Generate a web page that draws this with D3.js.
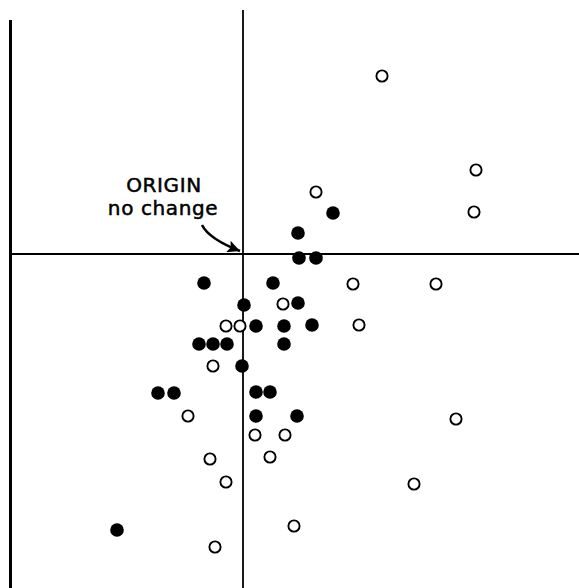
<!DOCTYPE html>
<html>
<head>
<meta charset="utf-8">
<script src="https://cdn.jsdelivr.net/npm/d3@7"></script>
<style>
  html, body { margin: 0; padding: 0; background: #fff; }
  svg { display: block; }
</style>
</head>
<body>
<svg id="chart"></svg>
<script>
// Constants
const width = 579;
const height = 588;

// Data: change relative to origin (arbitrary units)
const filledX = [-3.9, 3.0, 5.5, 9.0, 5.6, 7.3, 0.1, 5.5, 1.3, 4.1, 6.9, -4.4, -3.0, -1.6, 4.1, -0.1, -8.5, -6.9, 1.3, 2.7, 1.3, 5.4, -12.6];
const filledY = [-2.9, -2.9, 2.1, 4.1, -0.4, -0.4, -5.1, -4.9, -7.2, -7.2, -7.1, -9.0, -9.0, -9.0, -9.0, -11.2, -13.9, -13.9, -13.8, -13.8, -16.2, -16.2, -27.6];
const openX = [13.9, 23.3, 7.3, 23.1, 11.0, 19.3, 4.0, -1.7, -0.3, 11.6, -3.0, -5.5, 21.3, 1.2, 4.2, -3.3, 2.7, -1.7, 17.1, 5.1, -2.8];
const openY = [17.8, 8.4, 6.2, 4.2, -3.0, -3.0, -5.0, -7.2, -7.2, -7.1, -11.2, -16.2, -16.5, -18.1, -18.1, -20.5, -20.3, -22.8, -23.0, -27.2, -29.3];
const originLabel = ["ORIGIN", "no change"];

const svg = d3.select("#chart")
  .attr("width", width)
  .attr("height", height);

// Scales (origin sits at 243, 254)
const x = d3.scaleLinear().domain([-23.3, 33.6]).range([10, 579]);
const y = d3.scaleLinear().domain([24.4, -33.4]).range([10, 588]);

// Frame line on the left
svg.append("line")
  .attr("x1", x(-23.3) + 0.5).attr("x2", x(-23.3) + 0.5)
  .attr("y1", y(23.4)).attr("y2", height)
  .attr("stroke", "#000").attr("stroke-width", 3);

// Axes through the origin
svg.append("line")
  .attr("x1", x(0)).attr("x2", x(0))
  .attr("y1", y(24.4)).attr("y2", height)
  .attr("stroke", "#000").attr("stroke-width", 1.8);

svg.append("line")
  .attr("x1", x(-23.3)).attr("x2", width)
  .attr("y1", y(0)).attr("y2", y(0))
  .attr("stroke", "#000").attr("stroke-width", 1.8);

// Points
const filled = filledX.map((v, i) => ({ x: v, y: filledY[i] }));
const open = openX.map((v, i) => ({ x: v, y: openY[i] }));

svg.append("g")
  .selectAll("circle")
  .data(open)
  .join("circle")
    .attr("cx", d => x(d.x))
    .attr("cy", d => y(d.y))
    .attr("r", 5.6)
    .attr("fill", "#fff")
    .attr("stroke", "#000")
    .attr("stroke-width", 1.9);

svg.append("g")
  .selectAll("circle")
  .data(filled)
  .join("circle")
    .attr("cx", d => x(d.x))
    .attr("cy", d => y(d.y))
    .attr("r", 6.8)
    .attr("fill", "#000");

// Label
const label = svg.append("text")
  .attr("text-anchor", "middle")
  .attr("font-family", "DejaVu Sans, sans-serif")
  .attr("font-size", 20)
  .attr("letter-spacing", 0.6)
  .attr("stroke", "#000")
  .attr("stroke-width", 0.5);

label.append("tspan")
  .attr("x", x(-7.9))
  .attr("y", y(6.25))
  .text(originLabel[0]);

label.append("tspan")
  .attr("x", x(-8.0))
  .attr("y", y(3.9))
  .text(originLabel[1]);

// Arrow to the origin
svg.append("defs").append("marker")
  .attr("id", "head")
  .attr("viewBox", "0 0 10 10")
  .attr("refX", 10).attr("refY", 5)
  .attr("markerWidth", 6.4).attr("markerHeight", 4.8)
  .attr("markerUnits", "strokeWidth")
  .attr("orient", "auto")
  .append("path")
    .attr("d", "M0,0 L10,5 L0,10 L2,5 Z")
    .attr("fill", "#000");

const p = d3.path();
p.moveTo(x(-4.1), y(2.9));
p.quadraticCurveTo(x(-3.4), y(1.5), x(-0.3), y(0.3));
svg.append("path")
  .attr("d", p.toString())
  .attr("fill", "none")
  .attr("stroke", "#000")
  .attr("stroke-width", 2.6)
  .attr("marker-end", "url(#head)");
</script>
</body>
</html>
